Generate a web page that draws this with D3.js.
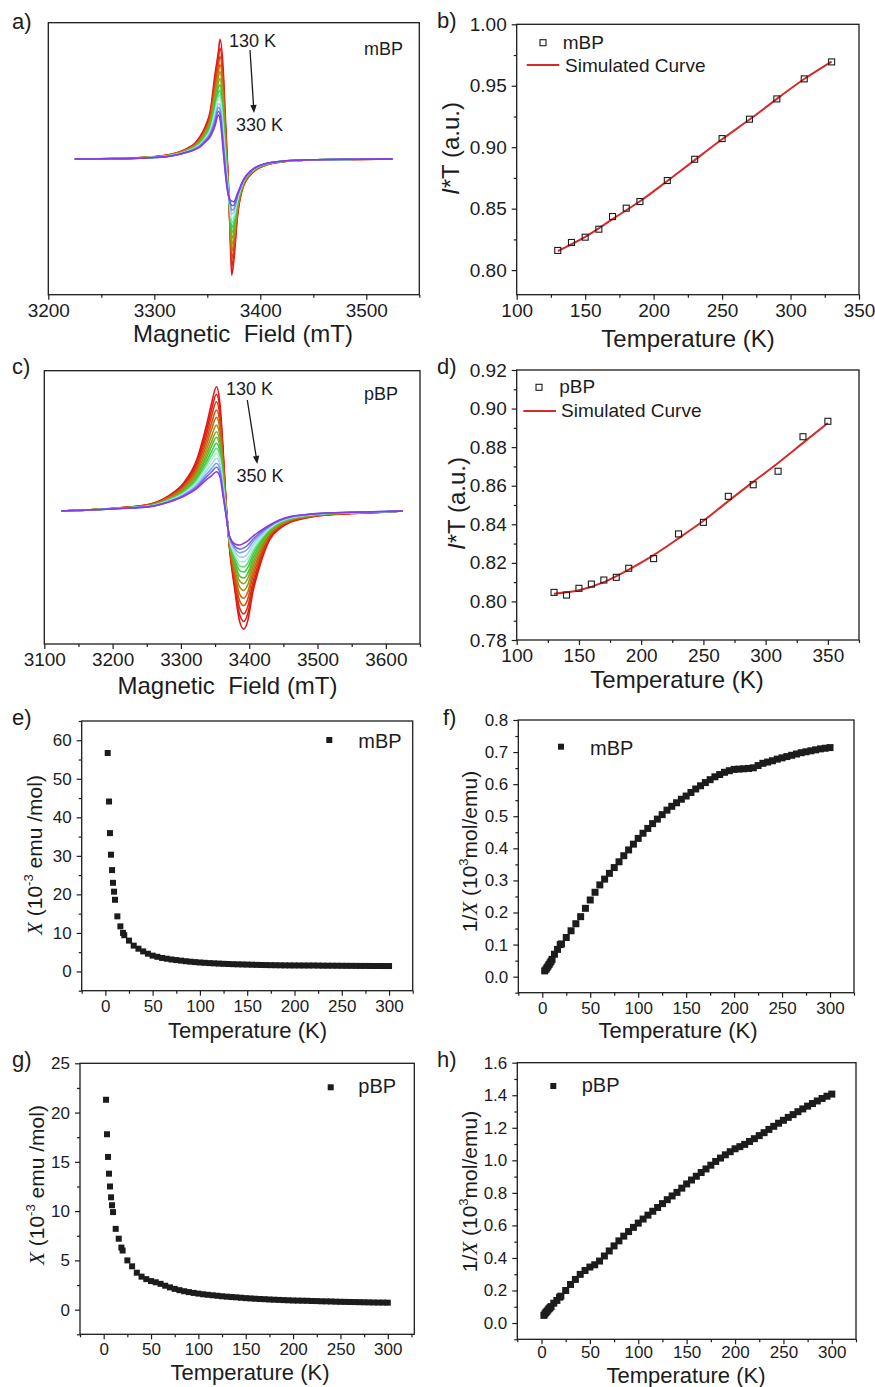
<!DOCTYPE html>
<html>
<head>
<meta charset="utf-8">
<script src="https://cdn.jsdelivr.net/npm/d3@7"></script>
<style>
  html, body { margin: 0; padding: 0; background: #fff; }
  svg { display: block; }
  svg text { white-space: pre; }
</style>
</head>
<body>
<svg id="fig" width="875" height="1387"></svg>
<script>
// ---------- (a) mBP EPR spectra, 130 K -> 330 K ----------
const fieldA = [3225, 3260, 3280, 3300, 3312, 3322, 3331, 3338, 3343, 3348, 3353, 3357, 3360.5, 3362, 3365, 3367, 3369.5, 3371.5, 3373, 3375, 3378.5, 3384, 3394, 3406, 3422, 3453, 3490, 3525];
const signalA130 = [0, 0.003, 0.008, 0.02, 0.033, 0.055, 0.089, 0.13, 0.187, 0.27, 0.41, 0.69, 0.90, 1.0, 0.75, 0.35, -0.12, -0.62, -0.97, -0.85, -0.48, -0.23, -0.106, -0.05, -0.022, -0.008, -0.003, 0];
const signalA330 = [0, 0.002, 0.005, 0.012, 0.02, 0.035, 0.056, 0.078, 0.10, 0.14, 0.19, 0.27, 0.368, 0.335, 0.07, -0.12, -0.287, -0.343, -0.352, -0.357, -0.287, -0.175, -0.078, -0.036, -0.017, -0.006, -0.002, 0];
const tempsA = [130, 140, 150, 160, 170, 180, 190, 210, 230, 250, 270, 290, 310, 330];
const peakA = [1.0, 0.93, 0.865, 0.80, 0.745, 0.69, 0.64, 0.595, 0.555, 0.515, 0.48, 0.445, 0.405, 0.368];
const colorsA = ['#e41414', '#e02a14', '#d84a12', '#c8700e', '#aa9412', '#82b020', '#4cc43a', '#2fd256', '#7ee09a', '#bfeee0', '#9ccdf2', '#6f98f0', '#6b5fe6', '#8a3ae0'];

// ---------- (b) mBP I*T ----------
const tempsB = [130, 140, 150, 160, 170, 180, 190, 210, 230, 250, 270, 290, 310, 330];
const itB = [0.816, 0.8225, 0.8268, 0.8333, 0.8436, 0.8504, 0.8558, 0.8729, 0.8902, 0.9070, 0.9228, 0.9393, 0.9556, 0.9694];
const fitTempsB = [130, 150, 170, 190, 210, 230, 250, 270, 290, 310, 330];
const fitB = [0.8155, 0.827, 0.8415, 0.856, 0.8725, 0.8895, 0.9065, 0.9225, 0.9393, 0.9555, 0.9697];

// ---------- (c) pBP EPR spectra, 130 K -> 350 K ----------
const fieldC = [3125, 3175, 3210, 3255, 3284, 3303, 3323, 3337, 3345, 3352, 3357, 3361.5, 3366.5, 3371, 3379, 3386, 3392, 3398, 3405, 3415, 3430, 3445, 3460, 3480, 3500, 3550, 3600, 3625];
const signalC130 = [0, 0.012, 0.025, 0.056, 0.13, 0.22, 0.41, 0.68, 0.87, 1.0, 0.87, 0.52, 0.035, -0.29, -0.64, -0.89, -0.95, -0.88, -0.66, -0.45, -0.23, -0.14, -0.09, -0.06, -0.04, -0.02, -0.008, 0];
const signalC350 = [0, 0.01, 0.02, 0.035, 0.075, 0.115, 0.18, 0.25, 0.285, 0.316, 0.28, 0.13, -0.05, -0.20, -0.265, -0.274, -0.26, -0.24, -0.205, -0.165, -0.112, -0.07, -0.045, -0.03, -0.02, -0.01, -0.004, 0];
const tempsC = [130, 140, 150, 160, 170, 180, 190, 210, 230, 250, 270, 290, 310, 330, 350];
const peakC = [1.0, 0.939, 0.879, 0.813, 0.754, 0.692, 0.638, 0.593, 0.545, 0.504, 0.464, 0.424, 0.384, 0.352, 0.316];
const colorsC = ['#e41414', '#e01c14', '#dc3214', '#d44e12', '#c26e10', '#a88c14', '#86a81e', '#56c030', '#30d048', '#6fdc84', '#b4ecd0', '#a6d4f2', '#7ea0f2', '#6e6ae8', '#8a3ae0'];

// ---------- (d) pBP I*T ----------
const tempsD = [130, 140, 150, 160, 170, 180, 190, 210, 230, 250, 270, 290, 310, 330, 350];
const itD = [0.8047, 0.8033, 0.8068, 0.8090, 0.8111, 0.8125, 0.8172, 0.8222, 0.8350, 0.8410, 0.8545, 0.8605, 0.8675, 0.8854, 0.8934];
const fitTempsD = [130, 150, 170, 190, 210, 230, 250, 270, 290, 310, 330, 350];
const fitD = [0.8040, 0.8058, 0.8100, 0.8165, 0.8240, 0.8327, 0.8418, 0.8520, 0.8620, 0.8718, 0.8822, 0.8925];

// ---------- (e)-(h) magnetic susceptibility ----------
const tempsHigh = [20, 25, 30, 35, 40, 45, 50, 55, 60, 65, 70, 75, 80, 85, 90, 95, 100, 105, 110, 115, 120, 125, 130, 135, 140, 145, 150, 155, 160, 165, 170, 175, 180, 185, 190, 195, 200, 205, 210, 215, 220, 225, 230, 235, 240, 245, 250, 255, 260, 265, 270, 275, 280, 285, 290, 295, 300];

const tempsLowM = [2.5, 3.9, 4.9, 6.0, 7.1, 8.1, 9.2, 10.2, 12.7, 15.9, 18.7];
const chiLowM = [56.7, 44.1, 35.9, 30.3, 26.3, 23.0, 20.7, 18.6, 14.3, 11.7, 10.0];
const chiHighM = [9.4, 8.0, 6.7, 5.9, 5.2, 4.6, 4.1, 3.8, 3.5, 3.3, 3.1, 2.95, 2.8, 2.65, 2.53, 2.42, 2.32, 2.24, 2.16, 2.1, 2.04, 1.98, 1.93, 1.88, 1.85, 1.81, 1.78, 1.74, 1.71, 1.68, 1.65, 1.63, 1.61, 1.59, 1.57, 1.56, 1.55, 1.55, 1.54, 1.54, 1.54, 1.52, 1.50, 1.49, 1.49, 1.48, 1.47, 1.46, 1.45, 1.44, 1.43, 1.43, 1.42, 1.41, 1.41, 1.40, 1.40];
const invLowM = [0.018, 0.023, 0.028, 0.033, 0.038, 0.043, 0.048, 0.054, 0.070, 0.085, 0.100];
const invHighM = [0.102, 0.122, 0.143, 0.165, 0.187, 0.213, 0.239, 0.263, 0.286, 0.304, 0.322, 0.340, 0.358, 0.377, 0.395, 0.413, 0.431, 0.447, 0.462, 0.477, 0.491, 0.505, 0.519, 0.531, 0.542, 0.553, 0.563, 0.574, 0.585, 0.595, 0.605, 0.614, 0.623, 0.630, 0.637, 0.642, 0.646, 0.647, 0.648, 0.649, 0.651, 0.658, 0.665, 0.669, 0.673, 0.678, 0.682, 0.686, 0.690, 0.694, 0.698, 0.701, 0.704, 0.707, 0.710, 0.712, 0.714];

const tempsLowP = [2.5, 3.5, 4.6, 5.6, 6.7, 7.8, 8.8, 9.9, 12.7, 15.9, 18.7];
const chiLowP = [21.3, 17.8, 15.5, 13.8, 12.5, 11.4, 10.6, 9.9, 8.2, 7.2, 6.3];
const chiHighP = [6.0, 5.0, 4.4, 3.75, 3.35, 3.1, 2.9, 2.78, 2.62, 2.43, 2.26, 2.11, 1.98, 1.87, 1.78, 1.70, 1.63, 1.56, 1.51, 1.46, 1.41, 1.36, 1.32, 1.28, 1.25, 1.21, 1.17, 1.14, 1.11, 1.08, 1.06, 1.03, 1.01, 0.99, 0.97, 0.95, 0.93, 0.92, 0.91, 0.90, 0.88, 0.87, 0.85, 0.84, 0.83, 0.81, 0.80, 0.79, 0.78, 0.77, 0.76, 0.75, 0.74, 0.73, 0.72, 0.72, 0.71];
const invLowP = [0.047, 0.056, 0.065, 0.072, 0.080, 0.088, 0.094, 0.101, 0.122, 0.139, 0.159];
const invHighP = [0.165, 0.200, 0.237, 0.268, 0.299, 0.323, 0.344, 0.358, 0.381, 0.412, 0.443, 0.474, 0.505, 0.534, 0.562, 0.588, 0.614, 0.639, 0.663, 0.687, 0.710, 0.734, 0.758, 0.781, 0.803, 0.829, 0.855, 0.879, 0.902, 0.925, 0.947, 0.970, 0.993, 1.014, 1.034, 1.053, 1.071, 1.084, 1.098, 1.116, 1.133, 1.152, 1.170, 1.190, 1.209, 1.228, 1.246, 1.264, 1.281, 1.299, 1.316, 1.333, 1.349, 1.365, 1.380, 1.394, 1.407];

// ---------- tick values ----------
const ticksFieldA = [3200, 3300, 3400, 3500], minorFieldA = [3250, 3350, 3450, 3550];
const ticksFieldC = [3100, 3200, 3300, 3400, 3500, 3600], minorFieldC = [3150, 3250, 3350, 3450, 3550, 3650];
const ticksTempB = [100, 150, 200, 250, 300, 350], minorTempB = [125, 175, 225, 275, 325];
const ticksItB = [0.80, 0.85, 0.90, 0.95, 1.00], minorItB = [0.825, 0.875, 0.925, 0.975];
const ticksTempD = [100, 150, 200, 250, 300, 350], minorTempD = [125, 175, 225, 275, 325, 375];
const ticksItD = [0.78, 0.80, 0.82, 0.84, 0.86, 0.88, 0.90, 0.92], minorItD = [0.79, 0.81, 0.83, 0.85, 0.87, 0.89, 0.91];
const ticksTempChi = [0, 50, 100, 150, 200, 250, 300], minorTempChi = [-25, 25, 75, 125, 175, 225, 275, 325];
const ticksChiM = [0, 10, 20, 30, 40, 50, 60], minorChiM = [-5, 5, 15, 25, 35, 45, 55, 65];
const ticksInvM = [0, 0.1, 0.2, 0.3, 0.4, 0.5, 0.6, 0.7, 0.8], minorInvM = [-0.05, 0.05, 0.15, 0.25, 0.35, 0.45, 0.55, 0.65, 0.75];
const ticksChiP = [0, 5, 10, 15, 20, 25], minorChiP = [-2.5, 2.5, 7.5, 12.5, 17.5, 22.5];
const ticksInvP = [0, 0.2, 0.4, 0.6, 0.8, 1.0, 1.2, 1.4, 1.6], minorInvP = [-0.1, 0.1, 0.3, 0.5, 0.7, 0.9, 1.1, 1.3, 1.5];

// ---------- drawing ----------
const FONT = '"Liberation Sans", Arial, Helvetica, sans-serif';
const SERIF = '"Liberation Serif", "Times New Roman", serif';
const INK = '#1c1c1c';
const FIT_RED = '#d42a2a';
const svg = d3.select('#fig');

function frameAxes(o) {
  const g = svg.append('g');
  const [x0, x1] = o.sx.range();
  const [yb, yt] = o.sy.range();
  const pad = o.pad == null ? 4 : o.pad;
  const style = a => {
    a.attr('font-family', FONT).attr('font-size', o.fs);
    a.select('.domain').remove();
    a.selectAll('line').attr('stroke', INK).attr('stroke-width', 1.2);
    a.selectAll('text').attr('fill', INK);
  };
  style(g.append('g').attr('transform', `translate(0,${yb})`)
    .call(d3.axisBottom(o.sx).tickValues(o.xMajor).tickSize(5).tickPadding(pad).tickFormat(o.xFmt)));
  style(g.append('g').attr('transform', `translate(0,${yb})`)
    .call(d3.axisBottom(o.sx).tickValues(o.xMinor).tickSize(3).tickFormat('')));
  if (o.yMajor) {
    style(g.append('g').attr('transform', `translate(${x0},0)`)
      .call(d3.axisLeft(o.sy).tickValues(o.yMajor).tickSize(5).tickPadding(5).tickFormat(o.yFmt)));
    style(g.append('g').attr('transform', `translate(${x0},0)`)
      .call(d3.axisLeft(o.sy).tickValues(o.yMinor).tickSize(3).tickFormat('')));
  }
  g.append('rect')
    .attr('x', x0).attr('y', yt).attr('width', x1 - x0).attr('height', yb - yt)
    .attr('fill', 'none').attr('stroke', INK).attr('stroke-width', 1.3);
  return g;
}

function rich(textSel, parts, fs) {
  let lift = 0;
  parts.forEach(p => {
    const ts = textSel.append('tspan').text(p.t);
    if (p.it) ts.attr('font-style', 'italic');
    if (p.serif) ts.attr('font-family', SERIF);
    if (p.sup) { ts.attr('font-size', fs * 0.62).attr('dy', -fs * 0.42); lift = fs * 0.42; }
    else if (lift) { ts.attr('dy', lift); lift = 0; }
  });
  return textSel;
}

function label(x, y, parts, fs, anchor, rotate) {
  const t = svg.append('text')
    .attr('font-family', FONT).attr('font-size', fs).attr('fill', INK)
    .attr('text-anchor', anchor || 'start');
  if (rotate) t.attr('transform', `translate(${x},${y}) rotate(-90)`);
  else t.attr('x', x).attr('y', y);
  return rich(t, typeof parts === 'string' ? [{ t: parts }] : parts, fs);
}

function arrow(x1, y1, x2, y2) {
  const ang = Math.atan2(y2 - y1, x2 - x1);
  const L = 8, Wd = 3.2;
  const bx = x2 - L * Math.cos(ang), by = y2 - L * Math.sin(ang);
  svg.append('line').attr('x1', x1).attr('y1', y1).attr('x2', bx).attr('y2', by)
    .attr('stroke', INK).attr('stroke-width', 1.3);
  svg.append('path')
    .attr('d', `M${x2},${y2}L${bx + Wd * Math.sin(ang)},${by - Wd * Math.cos(ang)}L${bx - Wd * Math.sin(ang)},${by + Wd * Math.cos(ang)}Z`)
    .attr('fill', INK);
}

// spectra: each temperature is drawn between the two measured end profiles,
// weighted so that its positive lobe reaches the measured peak height
function spectra(sx, sy, field, hot, cold, peaks, colors) {
  const hMax = d3.max(hot), cMax = d3.max(cold);
  const line = d3.line().x(d => sx(d[0])).y(d => sy(d[1])).curve(d3.curveMonotoneX);
  const g = svg.append('g');
  peaks.forEach((p, i) => {
    const w = (p - cMax) / (hMax - cMax);
    const pts = field.map((f, k) => [f, w * hot[k] + (1 - w) * cold[k]]);
    g.append('path').attr('d', line(pts)).attr('fill', 'none')
      .attr('stroke', colors[i]).attr('stroke-width', 1.6).attr('stroke-linejoin', 'round');
  });
}

function squares(sx, sy, xs, ys, size, filled) {
  svg.append('g').selectAll('rect').data(xs.map((t, i) => [t, ys[i]])).join('rect')
    .attr('x', d => sx(d[0]) - size / 2).attr('y', d => sy(d[1]) - size / 2)
    .attr('width', size).attr('height', size)
    .attr('fill', filled ? INK : 'none')
    .attr('stroke', filled ? 'none' : INK).attr('stroke-width', 1.1);
}

function fitLine(sx, sy, xs, ys) {
  svg.append('path')
    .attr('d', d3.line().x((d, i) => sx(xs[i])).y(d => sy(d)).curve(d3.curveNatural)(ys))
    .attr('fill', 'none').attr('stroke', FIT_RED).attr('stroke-width', 2);
}

const fInt = d3.format('d'), f2 = d3.format('.2f'), f1 = d3.format('.1f');

// ===== (a) =====
{
  const sx = d3.scaleLinear().domain([3200, 3550]).range([48.3, 419.3]);
  const sy = d3.scaleLinear().domain([-1.134, 1.139]).range([294.7, 22.7]);
  spectra(sx, sy, fieldA, signalA130, signalA330, peakA, colorsA);
  frameAxes({ sx, sy, xMajor: ticksFieldA, xMinor: minorFieldA, xFmt: fInt, fs: 19 });
  label(243, 342, 'Magnetic\u00a0 Field (mT)', 24, 'middle');
  label(229, 46.5, tempsA[0] + ' K', 18);
  label(236, 130.5, tempsA[tempsA.length - 1] + ' K', 18);
  label(364, 55, 'mBP', 18);
  arrow(250, 50, 254, 113);
  label(12, 29, 'a)', 22);
}

// ===== (b) =====
{
  const sx = d3.scaleLinear().domain([100, 350]).range([516.7, 859]);
  const sy = d3.scaleLinear().domain([0.78, 1.00]).range([294.7, 24.3]);
  frameAxes({ sx, sy, xMajor: ticksTempB, xMinor: minorTempB, xFmt: fInt,
              yMajor: ticksItB, yMinor: minorItB, yFmt: f2, fs: 19 });
  fitLine(sx, sy, fitTempsB, fitB);
  squares(sx, sy, tempsB, itB, 6, false);
  label(688, 347, 'Temperature (K)', 24, 'middle');
  label(459, 148.5, [{ t: 'I', it: true }, { t: '*T (a.u.)' }], 24, 'middle', true);
  svg.append('rect').attr('x', 540).attr('y', 39.7).attr('width', 6).attr('height', 6)
    .attr('fill', 'none').attr('stroke', INK).attr('stroke-width', 1.1);
  label(562.7, 48.5, 'mBP', 19);
  svg.append('line').attr('x1', 526.7).attr('x2', 559.3).attr('y1', 65).attr('y2', 65)
    .attr('stroke', FIT_RED).attr('stroke-width', 2);
  label(565, 71.7, 'Simulated Curve', 19);
  label(437, 28, 'b)', 22);
}

// ===== (c) =====
{
  const sx = d3.scaleLinear().domain([3100, 3650]).range([44.3, 420]);
  const sy = d3.scaleLinear().domain([-1.07, 1.129]).range([644, 370.7]);
  spectra(sx, sy, fieldC, signalC130, signalC350, peakC, colorsC);
  frameAxes({ sx, sy, xMajor: ticksFieldC, xMinor: minorFieldC, xFmt: fInt, fs: 19 });
  label(227.5, 694, 'Magnetic\u00a0 Field (mT)', 24, 'middle');
  label(226, 395, tempsC[0] + ' K', 18);
  label(236.5, 481.7, tempsC[tempsC.length - 1] + ' K', 18);
  label(364, 400, 'pBP', 18);
  arrow(247.3, 400, 257.3, 464);
  label(12, 374, 'c)', 22);
}

// ===== (d) =====
{
  const sx = d3.scaleLinear().domain([100, 375]).range([516.7, 859]);
  const sy = d3.scaleLinear().domain([0.78, 0.92]).range([640, 370]);
  frameAxes({ sx, sy, xMajor: ticksTempD, xMinor: minorTempD, xFmt: fInt,
              yMajor: ticksItD, yMinor: minorItD, yFmt: f2, fs: 19 });
  fitLine(sx, sy, fitTempsD, fitD);
  squares(sx, sy, tempsD, itD, 6, false);
  label(677, 688, 'Temperature (K)', 24, 'middle');
  label(465, 503.5, [{ t: 'I', it: true }, { t: '*T (a.u.)' }], 24, 'middle', true);
  svg.append('rect').attr('x', 536).attr('y', 384.3).attr('width', 6).attr('height', 6)
    .attr('fill', 'none').attr('stroke', INK).attr('stroke-width', 1.1);
  label(559.3, 392.5, 'pBP', 19);
  svg.append('line').attr('x1', 523.3).attr('x2', 556).attr('y1', 411).attr('y2', 411)
    .attr('stroke', FIT_RED).attr('stroke-width', 2);
  label(561, 417.3, 'Simulated Curve', 19);
  label(437, 374, 'd)', 22);
}

const chiTitle = [{ t: 'X', it: true, serif: true }, { t: ' (10' }, { t: '-3', sup: true }, { t: ' emu /mol)' }];
const invTitle = [{ t: '1/' }, { t: 'X', it: true, serif: true }, { t: ' (10' }, { t: '3', sup: true }, { t: 'mol/emu)' }];

// ===== (e) =====
{
  const sx = d3.scaleLinear().domain([-25, 325]).range([81.7, 412.7]);
  const sy = d3.scaleLinear().domain([-5, 65]).range([990.7, 721]);
  frameAxes({ sx, sy, xMajor: ticksTempChi, xMinor: minorTempChi, xFmt: fInt,
              yMajor: ticksChiM, yMinor: minorChiM, yFmt: fInt, fs: 17 });
  squares(sx, sy, tempsLowM.concat(tempsHigh), chiLowM.concat(chiHighM), 6, true);
  label(247.5, 1038, 'Temperature (K)', 22, 'middle');
  label(42, 855, chiTitle, 21, 'middle', true);
  svg.append('rect').attr('x', 326.3).attr('y', 737).attr('width', 6).attr('height', 6).attr('fill', INK);
  label(358.3, 748, 'mBP', 20);
  label(12, 725, 'e)', 22);
}

// ===== (f) =====
{
  const sx = d3.scaleLinear().domain([-25, 325]).range([518.3, 854]);
  const sy = d3.scaleLinear().domain([-0.05, 0.8]).range([992.7, 720]);
  frameAxes({ sx, sy, xMajor: ticksTempChi, xMinor: minorTempChi, xFmt: fInt,
              yMajor: ticksInvM, yMinor: minorInvM, yFmt: f1, fs: 17 });
  squares(sx, sy, tempsLowM.concat(tempsHigh), invLowM.concat(invHighM), 7, true);
  label(678, 1038, 'Temperature (K)', 22, 'middle');
  label(477, 851.5, invTitle, 21, 'middle', true);
  svg.append('rect').attr('x', 558).attr('y', 743.7).attr('width', 6).attr('height', 6).attr('fill', INK);
  label(590, 755, 'mBP', 20);
  label(443, 725, 'f)', 22);
}

// ===== (g) =====
{
  const sx = d3.scaleLinear().domain([-25, 328]).range([80, 414.3]);
  const sy = d3.scaleLinear().domain([-2.5, 25]).range([1334.3, 1063.3]);
  frameAxes({ sx, sy, xMajor: ticksTempChi, xMinor: minorTempChi.filter(v => v < 328), xFmt: fInt,
              yMajor: ticksChiP, yMinor: minorChiP, yFmt: fInt, fs: 17 });
  squares(sx, sy, tempsLowP.concat(tempsHigh), chiLowP.concat(chiHighP), 6, true);
  label(250, 1380, 'Temperature (K)', 22, 'middle');
  label(44, 1185, chiTitle, 21, 'middle', true);
  svg.append('rect').attr('x', 327.7).attr('y', 1084.3).attr('width', 6).attr('height', 6).attr('fill', INK);
  label(358.3, 1093, 'pBP', 20);
  label(12, 1067, 'g)', 22);
}

// ===== (h) =====
{
  const sx = d3.scaleLinear().domain([-25, 325]).range([517.3, 856]);
  const sy = d3.scaleLinear().domain([-0.1, 1.6]).range([1339.3, 1062.7]);
  frameAxes({ sx, sy, xMajor: ticksTempChi, xMinor: minorTempChi, xFmt: fInt,
              yMajor: ticksInvP, yMinor: minorInvP, yFmt: f1, fs: 17, pad: 2 });
  squares(sx, sy, tempsLowP.concat(tempsHigh), invLowP.concat(invHighP), 7, true);
  label(686, 1383, 'Temperature (K)', 22, 'middle');
  label(477, 1191.5, invTitle, 21, 'middle', true);
  svg.append('rect').attr('x', 550.3).attr('y', 1083).attr('width', 6).attr('height', 6).attr('fill', INK);
  label(581.7, 1092, 'pBP', 20);
  label(437, 1067, 'h)', 22);
}
</script>
</body>
</html>
